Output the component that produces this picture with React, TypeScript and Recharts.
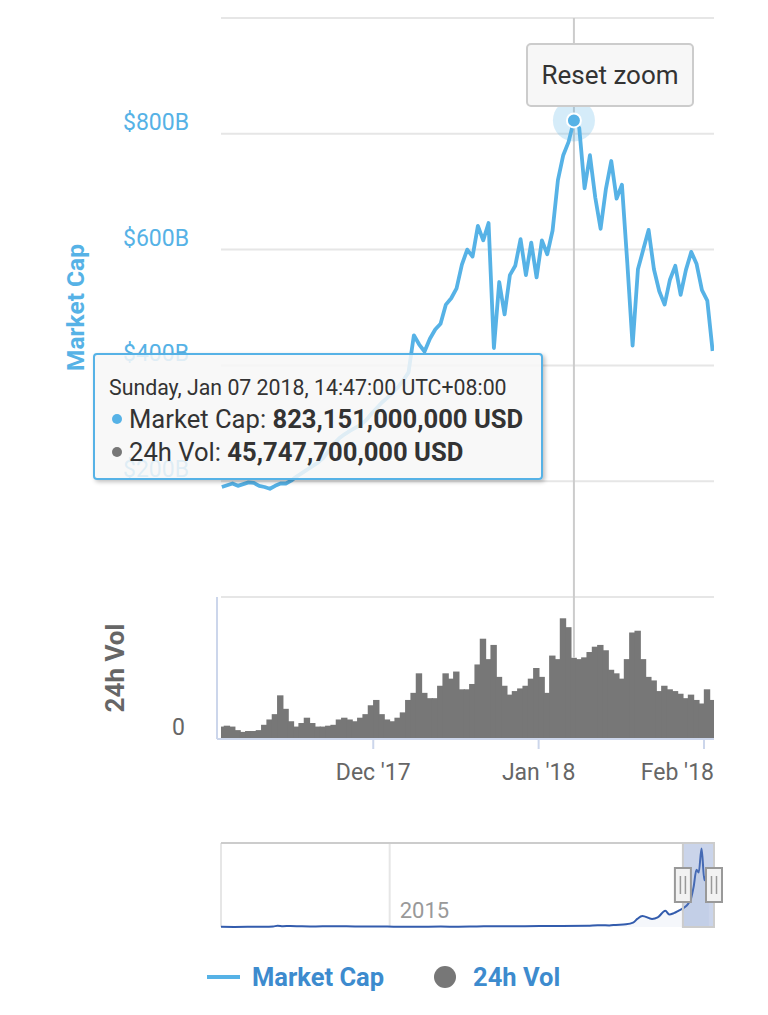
import React from 'react';
import {
  ComposedChart,
  Line,
  Bar,
  Area,
  XAxis,
  YAxis,
  CartesianGrid,
  ReferenceLine,
  ReferenceDot,
  ReferenceArea,
} from 'recharts';

const DAY = 24 * 3600 * 1000;
// all times are UTC+08:00 wall clock
const at = (y: number, m: number, d: number, h = 0, min = 0) => Date.UTC(y, m - 1, d, h - 8, min);

// daily samples, Nov 02 2017 14:47 -> Feb 02 2018 14:47
const firstSample = at(2017, 11, 2, 14, 47);

// total market cap, billions USD
const marketCap = [
  190, 193, 196, 192, 195, 198, 197, 192, 190, 187, 192, 196, 196, 201, 208, 214, 220, 226, 232, 240,
  252, 265, 274, 281, 287, 292, 297, 305, 316, 326, 336, 344, 353, 362, 374, 388, 452, 436, 424, 446,
  462, 472, 505, 516, 533, 574, 600, 588, 641, 616, 646, 430, 544, 488, 556, 572, 618, 556, 612, 552,
  616, 592, 633, 720, 763, 786, 823.151, 810, 706, 763, 690, 636, 705, 753, 688, 712, 578, 434, 566, 600,
  634, 566, 528, 505, 548, 572, 522, 565, 596, 575, 530, 512, 425,
];

// 24h volume, billions USD
const volume24h = [
  7, 7.5, 7, 5, 4, 4.5, 4.5, 5, 8, 11, 14, 24.6, 17, 10, 7, 9, 12, 9, 7, 7,
  7.5, 8, 11, 12, 11, 10, 12, 14, 19, 22, 14, 11, 10, 12, 15, 22, 26, 37, 26, 23,
  23, 30, 37, 34, 38, 28, 28, 31, 42, 56.5, 45, 53, 35, 30, 25, 27, 28.5, 30, 34, 40,
  35, 26, 47, 45, 68, 63, 45.7477, 45, 46, 49, 52, 53, 50, 39, 37, 34, 45, 60, 61, 45,
  35, 33, 27, 30, 28, 27, 25.5, 23, 25, 22, 20, 28, 22,
];

const sampleTimes = marketCap.map((_, i) => firstSample + i * DAY);
const hoverIndex = 66;

const mainDomain = [at(2017, 11, 2, 11), at(2018, 2, 2, 21)];
const capTicks = [0, 200, 400, 600, 800, 1000];
const capLabels = ['$0', '$200B', '$400B', '$600B', '$800B', ''];
const volMax = 80;
const monthTicks = [at(2017, 12, 1), at(2018, 1, 1), at(2018, 2, 1)];
const monthLabels = ["Dec '17", "Jan '18", "Feb '18"];

// navigator: whole history of market cap, billions USD
const navDates = [
  '2013-05-15', '2013-07-01', '2013-09-01', '2013-10-15', '2013-11-15', '2013-12-01', '2013-12-20',
  '2014-01-15', '2014-02-25', '2014-04-15', '2014-06-01', '2014-08-01', '2014-10-01', '2014-12-01',
  '2015-01-15', '2015-04-01', '2015-07-01', '2015-09-01', '2015-11-05', '2015-12-15', '2016-03-01',
  '2016-06-15', '2016-09-01', '2016-12-01', '2017-01-05', '2017-02-15', '2017-03-10', '2017-04-15',
  '2017-05-10', '2017-05-25', '2017-06-12', '2017-07-16', '2017-08-05', '2017-09-01', '2017-09-15',
  '2017-10-01', '2017-10-20', '2017-11-05', '2017-11-20', '2017-12-01', '2017-12-10', '2017-12-20',
  '2017-12-28', '2018-01-07', '2018-01-17', '2018-01-28', '2018-02-02',
];
const navCap = [
  1.4, 1.1, 1.6, 2, 5, 13, 8,
  11, 7, 6, 8, 8, 5, 5,
  3.5, 3.7, 4, 3.6, 6, 7, 7,
  11, 10, 12, 18, 17, 22, 28,
  45, 85, 115, 85, 100, 170, 130,
  145, 175, 200, 240, 300, 420, 600,
  570, 823, 490, 580, 430,
];
const navDomain = [Date.UTC(2013, 4, 15), Date.UTC(2018, 1, 20)];
const navTicks = [Date.UTC(2015, 0, 1)];
const navLabels = ['2015'];

const CAP_COLOR = '#56b2e6';
const VOL_COLOR = '#777777';
const FONT = 'Roboto, "Noto Sans", sans-serif';
const PLOT_RIGHT = 714;

const mainData = sampleTimes.map((t, i) => ({ t, cap: marketCap[i], vol: volume24h[i] }));
const navData = navDates.map((d, i) => ({ t: Date.parse(d), cap: navCap[i] }));

const usd = (b: number) => Math.round(b * 1e9).toLocaleString('en-US') + ' USD';

function CapTick(props: any) {
  const { x, y, payload } = props;
  return (
    <text x={x} y={y} dy={-4} textAnchor="end" fill={CAP_COLOR} fontSize={23}>
      {capLabels[capTicks.indexOf(payload.value)]}
    </text>
  );
}

function VolTick(props: any) {
  const { x, y, payload } = props;
  return (
    <text x={x} y={y} dy={-4} textAnchor="end" fill="#666" fontSize={23}>
      {payload.value}
    </text>
  );
}

function MonthTick(props: any) {
  const { x, y, payload } = props;
  const label = monthLabels[monthTicks.indexOf(payload.value)];
  // keep the last label inside the plot, like the original
  const overflow = x + 38 > PLOT_RIGHT;
  return (
    <text
      x={overflow ? PLOT_RIGHT : x}
      y={y}
      dy={31}
      textAnchor={overflow ? 'end' : 'middle'}
      fill="#666"
      fontSize={23}
    >
      {label}
    </text>
  );
}

function NavTick(props: any) {
  const { x, y, payload } = props;
  return (
    <text x={x + 10} y={y} dy={-9} textAnchor="start" fill="#999" fontSize={22}>
      {navLabels[navTicks.indexOf(payload.value)]}
    </text>
  );
}

function axisTitle(text: string, color: string, dx: number, size: number) {
  return (props: any) => {
    const vb = props.viewBox;
    const cx = vb.x + dx;
    const cy = vb.y + vb.height / 2;
    return (
      <text
        x={cx}
        y={cy}
        transform={`rotate(-90 ${cx} ${cy})`}
        textAnchor="middle"
        dominantBaseline="central"
        fill={color}
        fontSize={size}
        fontWeight="bold"
      >
        {text}
      </text>
    );
  };
}

function VolBar(props: any) {
  const { x, y, width, height } = props;
  if (!height || height <= 0) return null;
  const w = 6.4;
  return <rect x={x + width / 2 - w / 2} y={y} width={w} height={height} fill={VOL_COLOR} />;
}

function HoverDot(props: any) {
  const { cx, cy } = props;
  return (
    <g>
      <circle cx={cx} cy={cy} r={21} fill={CAP_COLOR} fillOpacity={0.25} />
      <circle cx={cx} cy={cy} r={7} fill={CAP_COLOR} stroke="#fff" strokeWidth={2} />
    </g>
  );
}

function Handle(props: any) {
  const { cx, cy } = props;
  return (
    <g>
      <rect x={cx - 8} y={cy - 17} width={16} height={34} fill="#f2f2f2" stroke="#999" strokeWidth={2} />
      <line x1={cx - 2.5} y1={cy - 9} x2={cx - 2.5} y2={cy + 9} stroke="#999" strokeWidth={1.5} />
      <line x1={cx + 2.5} y1={cy - 9} x2={cx + 2.5} y2={cy + 9} stroke="#999" strokeWidth={1.5} />
    </g>
  );
}

function Bullet({ color }: { color: string }) {
  return (
    <span
      style={{
        display: 'inline-block',
        width: 10,
        height: 10,
        borderRadius: 5,
        background: color,
        marginRight: 7,
        verticalAlign: 'middle',
        position: 'relative',
        top: -2,
      }}
    />
  );
}

export default function App() {
  const hoverT = sampleTimes[hoverIndex];
  return (
    <div
      style={{
        position: 'absolute',
        left: 0,
        top: 0,
        width: 768,
        height: 1015,
        background: '#fff',
        fontFamily: FONT,
        overflow: 'hidden',
      }}
    >
      {/* market cap panel */}
      <div style={{ position: 'absolute', left: 0, top: 0 }}>
        <ComposedChart width={768} height={600} data={mainData} margin={{ top: 18, right: 54, bottom: 3, left: 0 }}>
          <CartesianGrid vertical={false} stroke="#e6e6e6" strokeWidth={2} />
          <XAxis dataKey="t" type="number" domain={mainDomain} allowDataOverflow hide />
          <YAxis
            domain={[0, 1000]}
            ticks={capTicks}
            width={221}
            axisLine={false}
            tickLine={false}
            tickSize={0}
            tickMargin={32}
            tick={<CapTick />}
            label={{ content: axisTitle('Market Cap', CAP_COLOR, 75, 24.5) }}
          />
          <ReferenceLine x={hoverT} stroke="#cccccc" strokeWidth={2} />
          <Line
            dataKey="cap"
            type="linear"
            stroke={CAP_COLOR}
            strokeWidth={3.8}
            strokeLinejoin="round"
            dot={false}
            isAnimationActive={false}
          />
          <ReferenceDot x={hoverT} y={marketCap[hoverIndex]} shape={<HoverDot />} />
        </ComposedChart>
      </div>

      {/* volume panel */}
      <div style={{ position: 'absolute', left: 0, top: 590 }}>
        <ComposedChart width={768} height={200} data={mainData} margin={{ top: 7, right: 54, bottom: 0, left: 0 }}>
          <XAxis
            dataKey="t"
            type="number"
            domain={mainDomain}
            allowDataOverflow
            ticks={monthTicks}
            height={51}
            padding={{ left: 4, right: 0 }}
            stroke="#ccd6eb"
            tickSize={10}
            tickMargin={0}
            tickLine={{ stroke: '#ccd6eb', strokeWidth: 2 }}
            axisLine={{ stroke: '#ccd6eb', strokeWidth: 2 }}
            tick={<MonthTick />}
          />
          <YAxis
            domain={[0, volMax]}
            ticks={[0]}
            width={217}
            axisLine={{ stroke: '#ccd6eb', strokeWidth: 2 }}
            tickLine={false}
            tickSize={0}
            tickMargin={32}
            tick={<VolTick />}
            label={{ content: axisTitle('24h Vol', '#666', 115, 26) }}
          />
          <Bar dataKey="vol" fill={VOL_COLOR} barSize={6} shape={<VolBar />} isAnimationActive={false} />
          {/* crosshair stays behind the bars: only draw it above the hovered bar */}
          <ReferenceLine
            segment={[
              { x: hoverT, y: volume24h[hoverIndex] },
              { x: hoverT, y: volMax },
            ]}
            stroke="#cccccc"
            strokeWidth={2}
          />
        </ComposedChart>
      </div>

      {/* navigator */}
      <div style={{ position: 'absolute', left: 0, top: 830 }}>
        <ComposedChart width={768} height={110} data={navData} margin={{ top: 13, right: 54, bottom: 12, left: 221 }}>
          <CartesianGrid horizontal={false} stroke="#e6e6e6" strokeWidth={2} />
          <XAxis
            dataKey="t"
            type="number"
            domain={navDomain}
            ticks={navTicks}
            height={1}
            axisLine={false}
            tickLine={false}
            tickSize={0}
            tickMargin={0}
            tick={<NavTick />}
          />
          <YAxis domain={[0, 880]} hide />
          <ReferenceLine y={880} stroke="#cccccc" strokeWidth={2} />
          <Area
            dataKey="cap"
            type="monotone"
            stroke="#335cad"
            strokeWidth={2}
            fill="#335cad"
            fillOpacity={0.05}
            isAnimationActive={false}
          />
          <ReferenceArea
            x1={mainDomain[0]}
            x2={navDomain[1]}
            y1={0}
            y2={880}
            fill="rgb(102,133,194)"
            fillOpacity={0.35}
            stroke="#cccccc"
            strokeWidth={2}
          />
          <ReferenceDot x={mainDomain[0]} y={440} shape={<Handle />} />
          <ReferenceDot x={navDomain[1]} y={440} shape={<Handle />} ifOverflow="visible" />
        </ComposedChart>
      </div>

      {/* reset zoom button */}
      <div
        style={{
          position: 'absolute',
          left: 526,
          top: 43,
          width: 164,
          height: 60,
          background: '#f7f7f7',
          border: '2px solid #cccccc',
          borderRadius: 5,
          color: '#333',
          fontSize: 26,
          display: 'flex',
          alignItems: 'center',
          justifyContent: 'center',
        }}
      >
        Reset zoom
      </div>

      {/* tooltip */}
      <div
        style={{
          position: 'absolute',
          left: 93,
          top: 353,
          width: 446,
          height: 123,
          background: 'rgba(247,247,247,0.85)',
          border: '2px solid ' + CAP_COLOR,
          borderRadius: 4,
          boxShadow: '2px 2px 4px rgba(0,0,0,0.25)',
          color: '#333',
          boxSizing: 'content-box',
        }}
      >
        <div style={{ position: 'absolute', left: 14, top: 21, fontSize: 21.3, lineHeight: '24px', whiteSpace: 'nowrap' }}>
          Sunday, Jan 07 2018, 14:47:00 UTC+08:00
        </div>
        <div style={{ position: 'absolute', left: 17, top: 49, fontSize: 25.6, lineHeight: '30px', whiteSpace: 'nowrap' }}>
          <Bullet color={CAP_COLOR} />
          Market Cap: <b>{usd(marketCap[hoverIndex])}</b>
        </div>
        <div style={{ position: 'absolute', left: 17, top: 82, fontSize: 25.6, lineHeight: '30px', whiteSpace: 'nowrap' }}>
          <Bullet color={VOL_COLOR} />
          24h Vol: <b>{usd(volume24h[hoverIndex])}</b>
        </div>
      </div>

      {/* legend */}
      <div
        style={{
          position: 'absolute',
          left: 207,
          top: 962,
          height: 30,
          display: 'flex',
          alignItems: 'center',
          fontSize: 25.5,
          fontWeight: 'bold',
          color: '#3d8bce',
          whiteSpace: 'nowrap',
        }}
      >
        <span style={{ display: 'inline-block', width: 33, height: 4, background: CAP_COLOR, marginRight: 12 }} />
        <span>Market Cap</span>
        <span
          style={{
            display: 'inline-block',
            width: 22,
            height: 22,
            borderRadius: 11,
            background: VOL_COLOR,
            marginLeft: 50,
            marginRight: 17,
          }}
        />
        <span>24h Vol</span>
      </div>
    </div>
  );
}
